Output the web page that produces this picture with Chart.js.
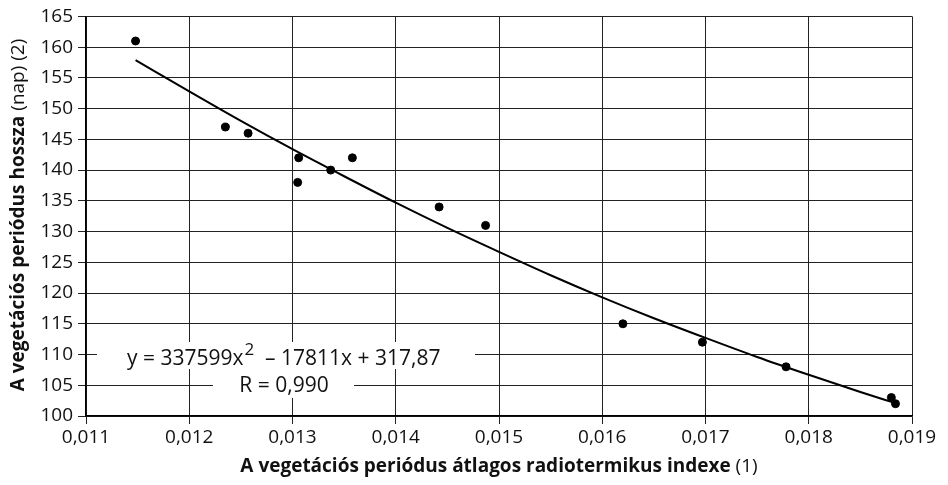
<!DOCTYPE html>
<html>
<head>
<meta charset="utf-8">
<script src="https://cdn.jsdelivr.net/npm/chart.js@4.4.1/dist/chart.umd.min.js"></script>
<style>
  body { margin: 0; background: #fff; }
  #wrap { width: 948px; height: 485px; }
</style>
</head>
<body>
<div id="wrap"><canvas id="chart"></canvas></div>
<script>
// measured points: radiothermic index vs. season length (days)
const indexValues = [0.01148, 0.01235, 0.01257, 0.01306, 0.01305, 0.01337, 0.01358,
                     0.01442, 0.01487, 0.01620, 0.01697, 0.01778, 0.01880, 0.01884];
const seasonDays  = [161, 147, 146, 142, 138, 140, 142, 134, 131, 115, 112, 108, 103, 102];

// trend line
const trendX = [0.01148, 0.012, 0.0125, 0.013, 0.0135, 0.014, 0.0145, 0.015,
                0.0155, 0.016, 0.0165, 0.017, 0.0175, 0.018, 0.0185, 0.01884];
const trendY = [157.9, 152.8, 148.0, 143.4, 139.0, 134.7, 130.6, 126.7,
                122.9, 119.3, 115.9, 112.7, 109.6, 106.7, 103.9, 102.1];

const xMin = 0.011, xMax = 0.019, xStep = 0.001;
const yMin = 100, yMax = 165, yStep = 5;

const FONT = "'Open Sans', 'DejaVu Sans', sans-serif";
const INK = "#111";

const toPairs = (xs, ys) => xs.map((x, i) => ({ x, y: ys[i] }));

// axis titles (bold + normal part) and the equation box
const annotations = {
    id: "annotations",
    afterDraw(chart) {
        const { ctx, chartArea: a } = chart;
        ctx.save();
        ctx.fillStyle = INK;
        ctx.textBaseline = "middle";

        const mixed = (bold, normal, cx, cy) => {
            ctx.font = `bold 19px ${FONT}`;
            const wb = ctx.measureText(bold).width;
            ctx.font = `19px ${FONT}`;
            const wn = ctx.measureText(normal).width;
            let x = cx - (wb + wn) / 2;
            ctx.textAlign = "left";
            ctx.font = `bold 19px ${FONT}`;
            ctx.fillText(bold, x, cy);
            ctx.font = `19px ${FONT}`;
            ctx.fillText(normal, x + wb, cy);
        };

        mixed("A vegetációs periódus átlagos radiotermikus indexe ", "(1)", (a.left + a.right) / 2, 467);

        ctx.save();
        ctx.translate(19, 215);
        ctx.rotate(-Math.PI / 2);
        mixed("A vegetációs periódus hossza ", "(nap) (2)", 0, 0);
        ctx.restore();

        // equation label with white backing
        ctx.fillStyle = "#fff";
        ctx.fillRect(97, 342, 378, 27);
        ctx.fillRect(213, 369, 141, 29);
        ctx.fillStyle = INK;
        ctx.textAlign = "left";
        ctx.textBaseline = "alphabetic";
        ctx.font = `21px ${FONT}`;
        let x = 127;
        const p1 = "y = 337599x";
        ctx.fillText(p1, x, 365);
        x += ctx.measureText(p1).width;
        ctx.font = `17px ${FONT}`;
        ctx.fillText("2", x + 1, 355);
        x += ctx.measureText("2").width + 1;
        ctx.font = `21px ${FONT}`;
        ctx.fillText("  \u2013 17811x + 317,87", x, 365);
        ctx.textAlign = "center";
        ctx.fillText("R = 0,990", 284, 392);
        ctx.restore();
    }
};

new Chart(document.getElementById("chart"), {
    type: "scatter",
    data: {
        datasets: [
            {
                label: "mért",
                data: toPairs(indexValues, seasonDays),
                backgroundColor: "#000",
                borderColor: "#000",
                pointRadius: 4,
                pointHoverRadius: 4
            },
            {
                label: "trend",
                type: "line",
                data: toPairs(trendX, trendY),
                borderColor: "#000",
                borderWidth: 2,
                pointRadius: 0,
                cubicInterpolationMode: "monotone",
                fill: false
            }
        ]
    },
    plugins: [annotations],
    options: {
        responsive: true,
        maintainAspectRatio: false,
        animation: false,
        layout: { padding: { top: 13, right: 36, left: 0, bottom: 0 } },
        plugins: {
            legend: { display: false },
            tooltip: { enabled: false }
        },
        scales: {
            x: {
                type: "linear",
                min: xMin,
                max: xMax,
                afterFit: s => { s.height = 69; },
                ticks: {
                    stepSize: xStep,
                    color: INK,
                    font: { family: FONT, size: 19 },
                    padding: 2,
                    maxRotation: 0,
                    callback: v => v.toFixed(3).replace(".", ",")
                },
                grid: { color: "#222", lineWidth: 1, tickLength: 8 },
                border: { color: "#000", width: 1.5 }
            },
            y: {
                min: yMin,
                max: yMax,
                afterFit: s => { s.width = 86; },
                ticks: {
                    stepSize: yStep,
                    color: INK,
                    font: { family: FONT, size: 19 },
                    padding: 5
                },
                grid: { color: "#222", lineWidth: 1, tickLength: 8 },
                border: { color: "#000", width: 1.5 }
            }
        }
    }
});
</script>
</body>
</html>
